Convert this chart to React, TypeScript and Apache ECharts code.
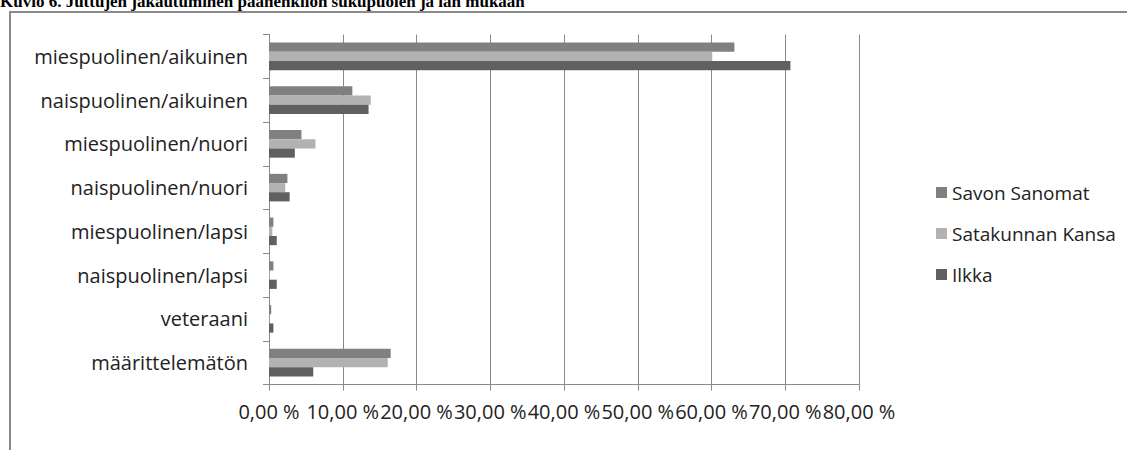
import React, { useEffect, useRef } from "react";
import * as echarts from "echarts";

const categories = [
  "miespuolinen/aikuinen",
  "naispuolinen/aikuinen",
  "miespuolinen/nuori",
  "naispuolinen/nuori",
  "miespuolinen/lapsi",
  "naispuolinen/lapsi",
  "veteraani",
  "määrittelemätön",
];
const seriesNames = ["Savon Sanomat", "Satakunnan Kansa", "Ilkka"];
const savonSanomat = [63.1, 11.3, 4.4, 2.5, 0.6, 0.6, 0.3, 16.5];
const satakunnanKansa = [60.1, 13.8, 6.3, 2.2, 0.45, 0.1, 0.05, 16.1];
const ilkka = [70.7, 13.5, 3.5, 2.8, 1.05, 1.05, 0.6, 6.0];
const seriesColors = ["#808080", "#b2b2b2", "#606060"];
const titleText = "Kuvio 6. Juttujen jakautuminen päähenkilön sukupuolen ja iän mukaan";

const FONT = "'Open Sans', sans-serif";

export default function App() {
  const ref = useRef<HTMLDivElement>(null);
  useEffect(() => {
    if (!ref.current) return;
    const chart = echarts.init(ref.current, undefined, { renderer: "svg" });
    const data = [savonSanomat, satakunnanKansa, ilkka];
    chart.setOption({
      animation: false,
      backgroundColor: "#ffffff",
      textStyle: { fontFamily: FONT },
      graphic: [
        {
          type: "rect",
          shape: { x: 10, y: 12, width: 1300, height: 600 },
          style: { fill: "none", stroke: "#8a8a8a", lineWidth: 2 },
          silent: true,
        },
        {
          type: "text",
          x: 0,
          y: 1,
          style: {
            text: titleText,
            font: "bold 17px 'Liberation Serif', serif",
            fill: "#000",
            textVerticalAlign: "middle",
          },
        },
      ],
      grid: { left: 269, right: 268, top: 34.5, bottom: 65.5, containLabel: false },
      legend: {
        orient: "vertical",
        left: 931,
        top: 178,
        itemWidth: 11,
        itemHeight: 11,
        itemGap: 22,
        icon: "rect",
        textStyle: { fontSize: 19, color: "#222", fontFamily: FONT },
        data: seriesNames,
      },
      xAxis: {
        type: "value",
        min: 0,
        max: 80,
        interval: 10,
        axisLine: { show: true, lineStyle: { color: "#888", width: 1 } },
        axisTick: { show: true, length: 6, lineStyle: { color: "#888" } },
        splitLine: { show: true, lineStyle: { color: "#888", width: 1 } },
        axisLabel: {
          fontSize: 20,
          color: "#222",
          margin: 17,
          formatter: (v: number) => v.toFixed(2).replace(".", ",") + " %",
        },
      },
      yAxis: {
        type: "category",
        inverse: true,
        data: categories,
        axisLine: { show: true, lineStyle: { color: "#888", width: 1 } },
        axisTick: { show: true, length: 6, interval: 0, lineStyle: { color: "#888" } },
        axisLabel: { fontSize: 20, color: "#222", margin: 21 },
        splitLine: { show: false },
      },
      series: seriesNames.map((name, i) => ({
        name,
        type: "bar",
        data: data[i],
        barGap: "0%",
        barCategoryGap: "37%",
        itemStyle: { color: seriesColors[i] },
      })),
    });
    return () => chart.dispose();
  }, []);
  return (
    <div
      ref={ref}
      style={{ position: "fixed", left: 0, top: 0, width: 1127, height: 450 }}
    />
  );
}
